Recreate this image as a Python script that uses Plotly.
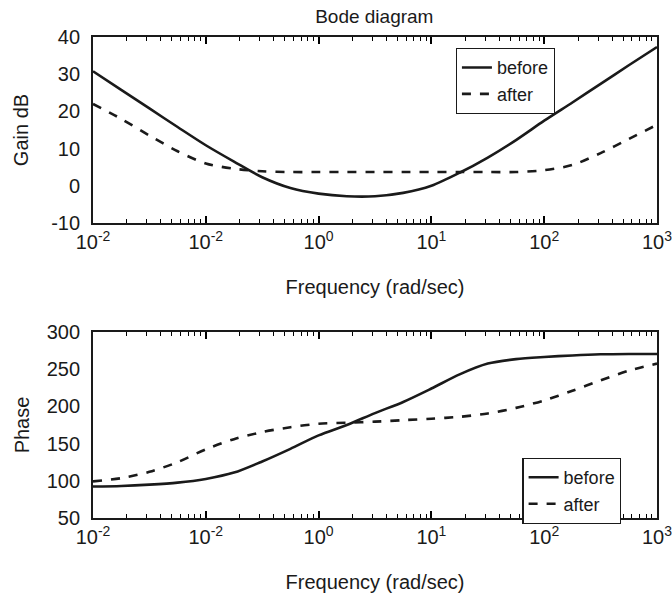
import plotly.graph_objects as go

# ---- data ----
log_w = [-2, -1.75, -1.5, -1.25, -1, -0.75, -0.5, -0.25, 0, 0.25, 0.5,
         0.75, 1, 1.25, 1.5, 1.75, 2, 2.25, 2.5, 2.75, 3]
freq = [10 ** v for v in log_w]

gain_before = [30.8, 25.8, 20.8, 15.8, 10.9, 6.5, 2.3, -0.6, -2.1, -2.8, -2.8,
               -1.9, 0.0, 3.5, 7.6, 12.3, 17.5, 22.4, 27.4, 32.4, 37.3]
gain_after = [22.0, 18.0, 13.5, 9.3, 6.0, 4.6, 3.9, 3.7, 3.7, 3.7, 3.7,
              3.7, 3.7, 3.7, 3.7, 3.7, 4.2, 5.6, 8.8, 12.6, 16.4]

phase_before = [92.3, 93.0, 94.8, 97.5, 102.5, 111.0, 126.0, 143.0, 161.0, 175.0, 191.0,
                206.0, 224.0, 243.0, 257.5, 263.5, 266.4, 268.5, 270.0, 270.5, 270.5]
phase_after = [99.2, 103.5, 112.0, 125.0, 142.3, 156.0, 165.5, 172.0, 176.7, 178.0, 179.5,
               181.5, 183.5, 186.0, 190.5, 198.0, 208.0, 221.0, 235.0, 248.0, 257.5]

x_tickvals = [0.01, 0.1, 1, 10, 100, 1000]
x_ticktext = ["10<sup>-2</sup>", "10<sup>-2</sup>", "10<sup>0</sup>",
              "10<sup>1</sup>", "10<sup>2</sup>", "10<sup>3</sup>"]
gain_ticks = [-10, 0, 10, 20, 30, 40]
gain_ticktext = ["-10", "0", "10", "20", "30", "40"]
phase_ticks = [50, 100, 150, 200, 250, 300]
phase_ticktext = ["50", "100", "150", "200", "250", "300"]

series_names = ["before", "after"]

# ---- styling ----
INK = "#1a1a1a"
FONT = "Liberation Sans, Arial, sans-serif"
FS = 20
CLEAR = "rgba(0,0,0,0)"
minor_vals = [m * 10 ** d for d in range(-2, 3) for m in range(2, 10)]

def line(dash=None):
    d = dict(color=INK, width=2.6, shape="spline", smoothing=0.8)
    if dash:
        d["dash"] = dash
    return d

fig = go.Figure()
fig.add_trace(go.Scatter(x=freq, y=gain_before, mode="lines", name=series_names[0],
                         line=line(), xaxis="x", yaxis="y", legend="legend"))
fig.add_trace(go.Scatter(x=freq, y=gain_after, mode="lines", name=series_names[1],
                         line=line("dash"), xaxis="x", yaxis="y", legend="legend"))
fig.add_trace(go.Scatter(x=freq, y=phase_before, mode="lines", name=series_names[0],
                         line=line(), xaxis="x2", yaxis="y2", legend="legend2"))
fig.add_trace(go.Scatter(x=freq, y=phase_after, mode="lines", name=series_names[1],
                         line=line("dash"), xaxis="x2", yaxis="y2", legend="legend2"))

# x axes: labels + inside ticks (major and minor) on both sides
xcommon = dict(type="log", range=[-2, 3], tickmode="array", tickvals=x_tickvals,
               ticktext=x_ticktext, ticks="inside", ticklen=7, tickwidth=1.5, tickcolor="black",
               showline=True, linecolor=INK, linewidth=1.8, mirror="allticks",
               showgrid=False, zeroline=False, ticklabeloverflow="allow",
               tickfont=dict(size=FS, color=INK), layer="above traces",
               minor=dict(tickmode="array", tickvals=minor_vals, ticks="inside",
                          ticklen=4, tickwidth=1.2, tickcolor="black", showgrid=False),
               title=dict(text="Frequency (rad/sec)", font=dict(size=FS, color=INK), standoff=28))
# y axes carrying labels (clear outside ticks give the label gap)
ylab = dict(ticks="outside", ticklen=7, tickcolor=CLEAR, showline=True,
            linecolor=INK, linewidth=1.8, mirror=True, showgrid=False, zeroline=False,
            tickmode="array", tickfont=dict(size=FS, color=INK))
# y tick-mark axes (inside ticks on both sides)
ytk = dict(ticks="inside", ticklen=7, tickwidth=1.5, tickcolor="black", showline=True,
           linecolor=INK, linewidth=1.8, mirror="allticks", showgrid=False, zeroline=False,
           showticklabels=False, layer="above traces", tickmode="array")

fig.update_layout(
    width=672, height=597,
    margin=dict(l=93, r=14, t=37, b=79, autoexpand=False),
    paper_bgcolor="white", plot_bgcolor="white",
    font=dict(family=FONT, color=INK, size=FS),
    showlegend=True,
    title=dict(text="Bode diagram", x=0.557, xanchor="center", y=0.972, yanchor="middle",
               font=dict(size=19, color=INK)),
    xaxis=dict(xcommon, domain=[0, 1], anchor="y"),
    yaxis=dict(ylab, domain=[0.6133, 1], anchor="x", range=[-10, 40],
               tickvals=gain_ticks, ticktext=gain_ticktext,
               title=dict(text="Gain dB", font=dict(size=FS, color=INK), standoff=17)),
    xaxis2=dict(xcommon, domain=[0, 1], anchor="y2"),
    yaxis2=dict(ylab, domain=[0, 0.3867], anchor="x2", range=[50, 300],
                tickvals=phase_ticks, ticktext=phase_ticktext,
                title=dict(text="Phase", font=dict(size=FS, color=INK), standoff=12)),
    yaxis3=dict(ytk, overlaying="y", anchor="x", range=[-10, 40], tickvals=gain_ticks),
    yaxis4=dict(ytk, overlaying="y2", anchor="x2", range=[50, 300], tickvals=phase_ticks),
    legend=dict(x=0.642, y=0.977, xanchor="left", yanchor="top", bgcolor="white",
                bordercolor=INK, borderwidth=1.2, font=dict(size=18, color=INK),
                tracegroupgap=0, itemwidth=30),
    legend2=dict(x=0.76, y=0.125, xanchor="left", yanchor="top", bgcolor="white",
                 bordercolor=INK, borderwidth=1.2, font=dict(size=18, color=INK),
                 tracegroupgap=0, itemwidth=30),
)

fig.write_html(
    "out.html",
    config={"displayModeBar": False},
    post_script=(
        "document.body.style.margin='0';"
        "var gd=document.getElementById('{plot_id}');"
        "Plotly.relayout(gd, {'margin.r': 15});"
    ),
)
